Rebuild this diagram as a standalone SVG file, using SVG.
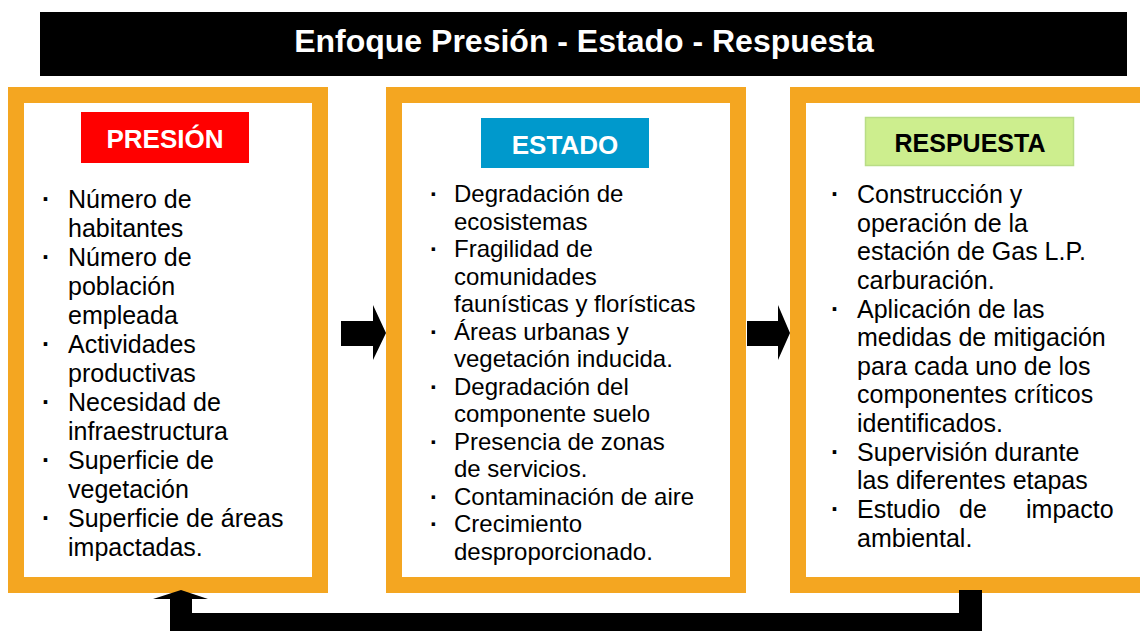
<svg xmlns="http://www.w3.org/2000/svg" width="1140" height="631" viewBox="0 0 1140 631">
<style>
.frame{fill:#FFFFFF;stroke:#F4A621;stroke-width:16}
.item{font-family:"Liberation Sans",Arial,sans-serif;fill:#000}
.b25{font-size:25px}
.b24{font-size:24px}
.dot{font-family:"Liberation Sans",Arial,sans-serif;font-weight:bold;fill:#000}
.hdr{font-family:"Liberation Sans",Arial,sans-serif;font-weight:bold;text-anchor:middle}
</style>
<rect x="0" y="0" width="1140" height="631" fill="#FFFFFF"/>
<g id="title">
<rect x="40" y="12" width="1087" height="64" fill="#000000"/>
<text class="hdr" x="584" y="52" font-size="32" fill="#FFFFFF">Enfoque Presión - Estado - Respuesta</text>
</g>
<g id="presion">
<rect class="frame" x="16" y="95" width="304" height="490"/>
<rect x="81" y="112" width="168" height="51" fill="#FF0000"/>
<text class="hdr" x="165" y="148" font-size="26" fill="#FFFFFF">PRESIÓN</text>
<g class="dot" font-size="25">
<text x="42" y="208">·</text><text x="42" y="266">·</text><text x="42" y="353">·</text><text x="42" y="411">·</text><text x="42" y="469">·</text><text x="42" y="527">·</text>
</g>
<g class="item b25">
<text x="68" y="208">Número de</text>
<text x="68" y="237">habitantes</text>
<text x="68" y="266">Número de</text>
<text x="68" y="295">población</text>
<text x="68" y="324">empleada</text>
<text x="68" y="353">Actividades</text>
<text x="68" y="382">productivas</text>
<text x="68" y="411">Necesidad de</text>
<text x="68" y="440">infraestructura</text>
<text x="68" y="469">Superficie de</text>
<text x="68" y="498">vegetación</text>
<text x="68" y="527">Superficie de áreas</text>
<text x="68" y="556">impactadas.</text>
</g>
</g>
<g id="estado">
<rect class="frame" x="394" y="95" width="344" height="490"/>
<rect x="481" y="118" width="168" height="50" fill="#0099CC"/>
<text class="hdr" x="565" y="154" font-size="26" fill="#FFFFFF">ESTADO</text>
<g class="dot" font-size="24">
<text x="430" y="202">·</text><text x="430" y="257">·</text><text x="430" y="339.5">·</text><text x="430" y="394.5">·</text><text x="430" y="449.5">·</text><text x="430" y="504.5">·</text><text x="430" y="532">·</text>
</g>
<g class="item b24">
<text x="454" y="202">Degradación de</text>
<text x="454" y="229.5">ecosistemas</text>
<text x="454" y="257">Fragilidad de</text>
<text x="454" y="284.5">comunidades</text>
<text x="454" y="312">faunísticas y florísticas</text>
<text x="454" y="339.5">Áreas urbanas y</text>
<text x="454" y="367">vegetación inducida.</text>
<text x="454" y="394.5">Degradación del</text>
<text x="454" y="422">componente suelo</text>
<text x="454" y="449.5">Presencia de zonas</text>
<text x="454" y="477">de servicios.</text>
<text x="454" y="504.5">Contaminación de aire</text>
<text x="454" y="532">Crecimiento</text>
<text x="454" y="559.5">desproporcionado.</text>
</g>
</g>
<g id="respuesta">
<rect class="frame" x="798" y="95" width="360" height="490"/>
<rect x="865.5" y="117.5" width="208" height="48" fill="#CDEE8E" stroke="#B9DD86" stroke-width="1.5"/>
<text class="hdr" x="970" y="152" font-size="25" fill="#000000">RESPUESTA</text>
<g class="dot" font-size="25">
<text x="831" y="203">·</text><text x="831" y="318">·</text><text x="831" y="461">·</text><text x="831" y="518">·</text>
</g>
<g class="item b25">
<text x="857" y="203">Construcción y</text>
<text x="857" y="232">operación de la</text>
<text x="857" y="260">estación de Gas L.P.</text>
<text x="857" y="289">carburación.</text>
<text x="857" y="318">Aplicación de las</text>
<text x="857" y="346">medidas de mitigación</text>
<text x="857" y="375">para cada uno de los</text>
<text x="857" y="403">componentes críticos</text>
<text x="857" y="432">identificados.</text>
<text x="857" y="461">Supervisión durante</text>
<text x="857" y="489">las diferentes etapas</text>
<text x="857" y="518"><tspan x="857">Estudio</tspan><tspan x="959">de</tspan><tspan x="1026">impacto</tspan></text>
<text x="857" y="547">ambiental.</text>
</g>
</g>
<g id="connectors" fill="#000000">
<polygon points="341,321 373,321 373,305 386,333 373,360 373,346 341,346"/>
<polygon points="747,321 778,321 778,305 790,333 778,360 778,346 747,346"/>
<polygon points="959,590 982,590 982,631 170,631 170,599 153,599 181,590 208,599 192,599 192,613 959,613"/>
</g>
</svg>
